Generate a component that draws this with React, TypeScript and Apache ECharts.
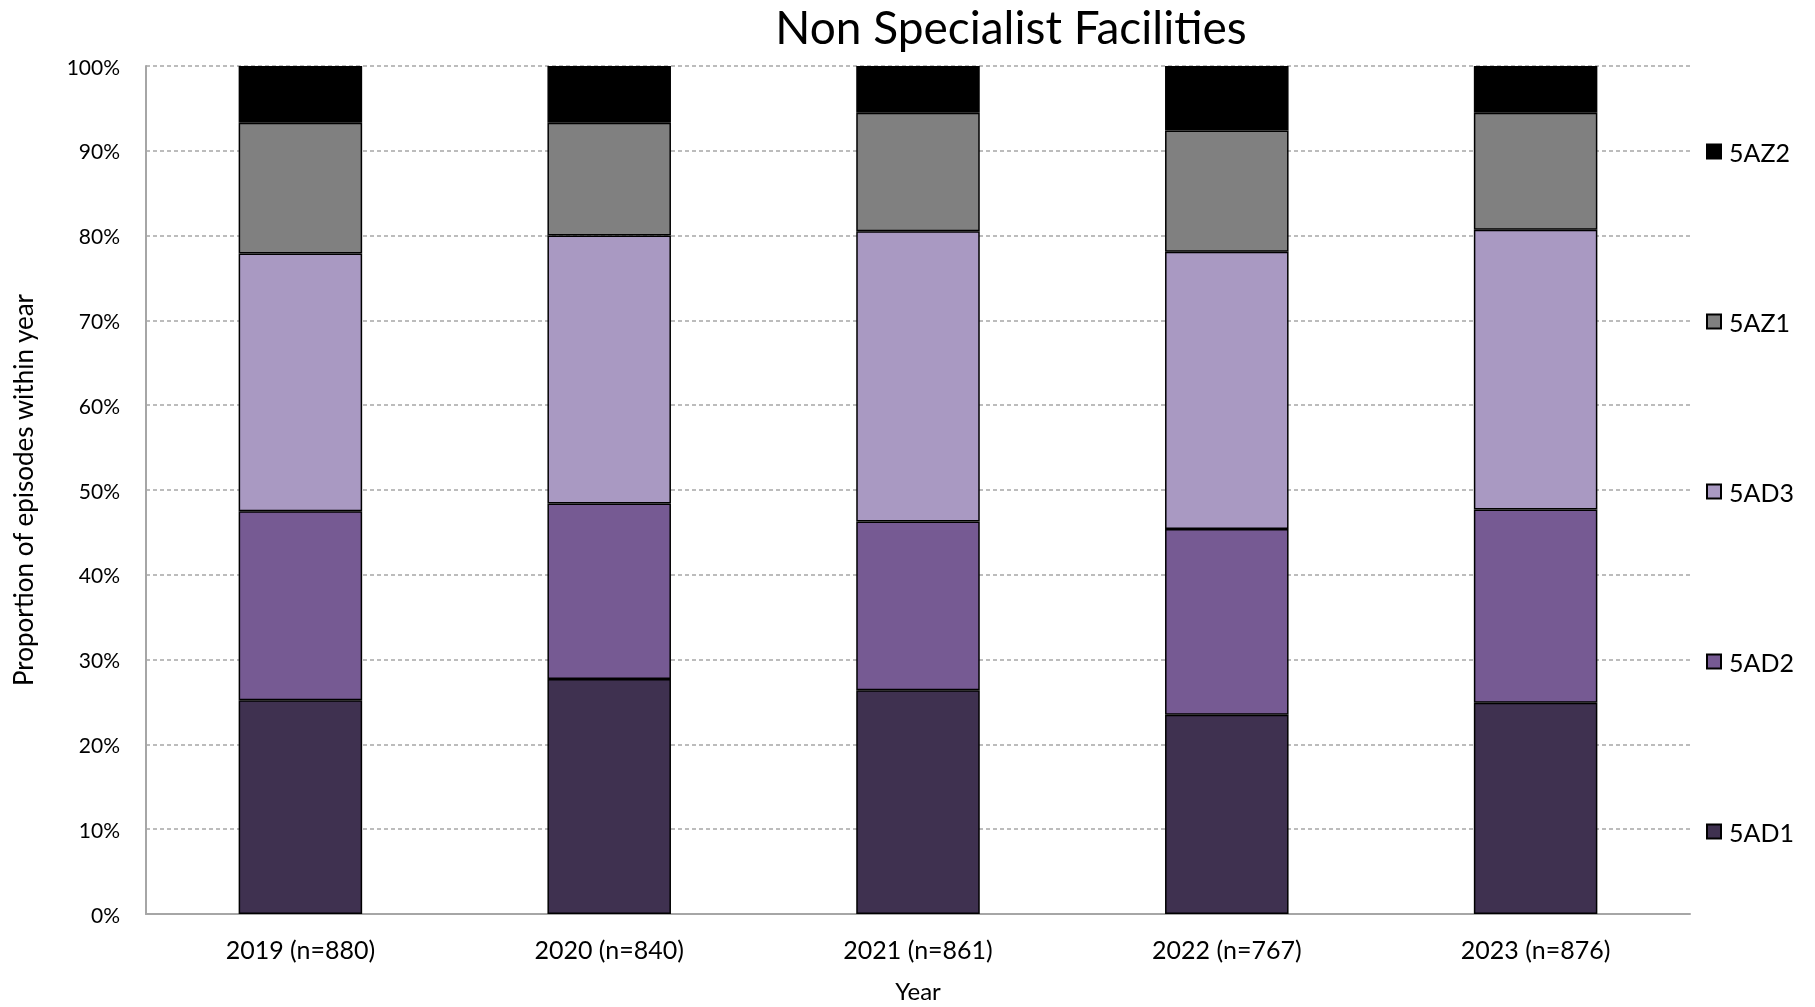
import React, { useEffect, useRef } from "react";
import * as echarts from "echarts";

const years = ["2019 (n=880)", "2020 (n=840)", "2021 (n=861)", "2022 (n=767)", "2023 (n=876)"];
const seriesNames = ["5AD1", "5AD2", "5AD3", "5AZ1", "5AZ2"];
const ad1 = [25.2, 27.7, 26.4, 23.5, 24.9];
const ad2 = [22.3, 20.7, 19.9, 21.9, 22.8];
const ad3 = [30.4, 31.6, 34.2, 32.7, 33.0];
const az1 = [15.4, 13.3, 14.0, 14.3, 13.8];
const az2 = [6.7, 6.7, 5.5, 7.6, 5.5];
const colors = ["#3F3150", "#765A93", "#A999C2", "#808080", "#000000"];
const yTicks = [0, 10, 20, 30, 40, 50, 60, 70, 80, 90, 100];

const FONT = "Lato, 'Noto Sans', sans-serif";

export default function App() {
  const ref = useRef<HTMLDivElement>(null);
  useEffect(() => {
    if (!ref.current) return;
    const chart = echarts.init(ref.current, undefined, { renderer: "svg" });
    const values = [ad1, ad2, ad3, az1, az2];
    chart.setOption({
      animation: false,
      textStyle: { fontFamily: FONT },
      title: {
        text: "Non Specialist Facilities",
        left: 1011,
        top: 3,
        textAlign: "center",
        padding: [0, 0, 0, 0],
        textStyle: { fontSize: 46, fontWeight: "normal", color: "#000", fontFamily: FONT, lineHeight: 46 },
      },
      legend: {
        orient: "vertical",
        left: 1701,
        top: 134,
        itemWidth: 14,
        itemHeight: 14,
        itemGap: 145,
        icon: "rect",
        data: seriesNames.slice().reverse(),
        textStyle: { fontSize: 25, lineHeight: 24, color: "#000", fontFamily: FONT, padding: [0, 0, 0, 3] },
      },
      grid: { left: 146, right: 125, top: 66, bottom: 93, containLabel: false, outerBoundsMode: "none" },
      xAxis: {
        type: "category",
        data: years,
        axisLine: { lineStyle: { color: "#A6A6A6", width: 2 } },
        axisTick: { show: false },
        axisLabel: { fontSize: 25, color: "#000", margin: 22, fontFamily: FONT },
        name: "Year",
        nameLocation: "middle",
        nameGap: 64,
        nameTextStyle: { fontSize: 24, lineHeight: 24, color: "#000", fontFamily: FONT },
      },
      yAxis: {
        type: "value",
        min: 0,
        max: 100,
        interval: 10,
        axisLine: { show: true, lineStyle: { color: "#A6A6A6", width: 2 } },
        axisTick: { show: false },
        axisLabel: {
          fontSize: 21,
          color: "#000",
          margin: 26,
          fontFamily: FONT,
          formatter: (v: number) => (yTicks.includes(v) ? `${v}%` : ""),
        },
        splitLine: { lineStyle: { color: "#A6A6A6", type: [4, 3], width: 1.5 } },
        name: "Proportion of episodes within year",
        nameLocation: "middle",
        nameGap: 110,
        nameTextStyle: { fontSize: 26, color: "#000", fontFamily: FONT },
      },
      series: seriesNames.map((name, i) => ({
        name,
        type: "bar",
        stack: "total",
        barWidth: "40%",
        data: values[i],
        itemStyle: { color: colors[i], borderColor: "#000", borderWidth: 1.5 },
        emphasis: { disabled: true },
      })),
    });
    return () => chart.dispose();
  }, []);
  return (
    <div
      ref={ref}
      style={{ position: "fixed", left: 0, top: 0, width: 1815, height: 1007, overflow: "hidden" }}
    />
  );
}
